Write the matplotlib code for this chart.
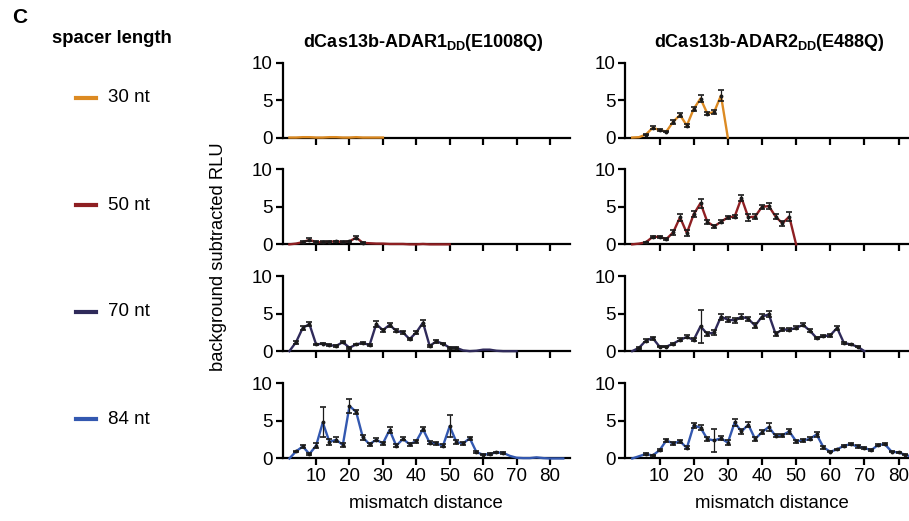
import matplotlib
matplotlib.use('Agg')
import matplotlib.pyplot as plt
from matplotlib.lines import Line2D

plt.rcParams['font.family'] = ['Liberation Sans', 'DejaVu Sans']
plt.rcParams['mathtext.fontset'] = 'custom'
plt.rcParams['mathtext.rm'] = 'Liberation Sans'
plt.rcParams['mathtext.bf'] = 'Liberation Sans:bold'

# mismatch positions per spacer length
x30 = list(range(2, 31, 2))
x50 = list(range(2, 51, 2))
x70 = list(range(2, 71, 2))
x84 = list(range(2, 85, 2))

# dCas13b-ADAR1DD(E1008Q)
a1_30 = [0.0, 0.0, 0.05, 0.05, 0.0, 0.0, 0.05, 0.05, 0.0, 0.0, 0.05, 0.0, 0.0, 0.0, 0.0]
a1_30_err = [0.0, 0.02, 0.02, 0.02, 0.02, 0.02, 0.02, 0.02, 0.02, 0.02, 0.02, 0.02, 0.02, 0.02, 0.0]
a1_50 = [0.0, 0.1, 0.3, 0.6, 0.3, 0.3, 0.35, 0.4, 0.3, 0.4, 0.9, 0.2, 0.15, 0.1, 0.1,
         0.05, 0.05, 0.05, 0.0, 0.0, 0.05, 0.0, 0.0, 0.0, 0.0]
a1_50_err = [0.0, 0.05, 0.1, 0.2, 0.1, 0.1, 0.1, 0.1, 0.1, 0.1, 0.2, 0.1, 0.05, 0.05, 0.05,
             0.05, 0.05, 0.05, 0.0, 0.0, 0.0, 0.0, 0.0, 0.0, 0.0]
a1_70 = [0.0, 1.2, 3.1, 3.6, 0.9, 1.0, 0.8, 0.7, 1.2, 0.45, 0.9, 1.1, 0.8, 3.6, 2.8,
         3.5, 2.7, 2.5, 1.6, 2.5, 3.8, 0.7, 1.3, 1.0, 0.45, 0.45, 0.1, 0.0, 0.05, 0.2,
         0.2, 0.05, 0.0, 0.0, 0.0]
a1_70_err = [0.0, 0.2, 0.3, 0.3, 0.1, 0.1, 0.1, 0.1, 0.15, 0.1, 0.1, 0.15, 0.1, 0.4, 0.2,
             0.3, 0.2, 0.2, 0.15, 0.2, 0.4, 0.1, 0.2, 0.1, 0.1, 0.1, 0.05, 0.0, 0.0, 0.05,
             0.05, 0.0, 0.0, 0.0, 0.0]
a1_84 = [0.0, 0.95, 1.6, 0.6, 1.7, 4.8, 2.2, 2.5, 1.8, 7.0, 6.2, 2.8, 1.9, 2.5, 2.0,
         3.8, 1.7, 2.6, 1.9, 2.3, 3.9, 2.1, 2.0, 1.7, 4.3, 2.2, 2.0, 2.7, 0.85, 0.5,
         0.6, 0.8, 0.75, 0.35, 0.1, 0.05, 0.05, 0.15, 0.05, 0.0, 0.0, 0.0]
a1_84_err = [0.0, 0.1, 0.15, 0.1, 0.3, 2.0, 0.4, 0.3, 0.3, 0.9, 0.3, 0.3, 0.2, 0.2, 0.2,
             0.4, 0.2, 0.2, 0.2, 0.2, 0.3, 0.2, 0.2, 0.2, 1.5, 0.3, 0.2, 0.2, 0.1, 0.1,
             0.1, 0.1, 0.1, 0.05, 0.05, 0.0, 0.0, 0.05, 0.0, 0.0, 0.0, 0.0]

# dCas13b-ADAR2DD(E488Q)
a2_30 = [0.0, 0.05, 0.4, 1.3, 1.0, 0.8, 2.1, 3.0, 1.6, 3.8, 5.2, 3.2, 3.4, 5.6, 0.0]
a2_30_err = [0.0, 0.0, 0.1, 0.2, 0.15, 0.1, 0.3, 0.25, 0.25, 0.3, 0.45, 0.2, 0.25, 0.7, 0.0]
a2_50 = [0.0, 0.1, 0.27, 1.0, 1.0, 0.7, 1.6, 3.6, 1.5, 4.0, 5.5, 3.0, 2.4, 3.0, 3.6,
         3.7, 6.2, 3.6, 3.7, 5.0, 5.1, 3.7, 2.8, 3.7, 0.0]
a2_50_err = [0.0, 0.05, 0.1, 0.15, 0.1, 0.15, 0.3, 0.5, 0.4, 0.4, 0.6, 0.3, 0.2, 0.2, 0.2,
             0.2, 0.4, 0.5, 0.3, 0.3, 0.4, 0.3, 0.3, 0.6, 0.0]
a2_70 = [0.0, 0.45, 1.4, 1.75, 0.6, 0.6, 1.0, 1.5, 1.9, 1.5, 3.3, 2.3, 2.5, 4.6, 4.2,
         4.1, 4.6, 4.3, 3.4, 4.6, 4.9, 2.3, 2.9, 2.85, 3.1, 3.5, 2.75, 1.75, 2.0, 2.1,
         3.1, 1.1, 0.9, 0.6, 0.0]
a2_70_err = [0.0, 0.1, 0.2, 0.2, 0.1, 0.1, 0.15, 0.2, 0.2, 0.2, 2.2, 0.3, 0.3, 0.4, 0.3,
             0.3, 0.3, 0.3, 0.3, 0.3, 0.4, 0.3, 0.2, 0.2, 0.2, 0.2, 0.2, 0.15, 0.15, 0.15,
             0.3, 0.15, 0.1, 0.1, 0.0]
a2_84 = [0.0, 0.3, 0.6, 0.4, 1.1, 2.4, 2.0, 2.3, 1.4, 4.4, 4.1, 2.6, 2.4, 2.7, 2.1,
         4.8, 3.6, 4.5, 2.6, 3.5, 4.2, 3.0, 3.1, 3.6, 2.3, 2.4, 2.6, 3.2, 1.5, 0.9,
         1.2, 1.7, 1.9, 1.6, 1.4, 1.1, 1.8, 1.9, 0.9, 0.8, 0.5, 0.2]
a2_84_err = [0.0, 0.05, 0.1, 0.1, 0.15, 0.2, 0.2, 0.2, 0.2, 0.3, 0.3, 0.3, 1.5, 0.3, 0.3,
             0.5, 0.3, 0.3, 0.3, 0.3, 0.5, 0.2, 0.2, 0.3, 0.2, 0.2, 0.2, 0.3, 0.2, 0.1,
             0.1, 0.15, 0.15, 0.15, 0.1, 0.1, 0.15, 0.15, 0.1, 0.1, 0.1, 0.05]

spacers = ['30 nt', '50 nt', '70 nt', '84 nt']
colors = ['#dc8a22', '#8e1f22', '#2f2a5a', '#3358b0']
titles = [r'dCas13b-ADAR1$_{\mathbf{DD}}$(E1008Q)', r'dCas13b-ADAR2$_{\mathbf{DD}}$(E488Q)']

rows = [
    (x30, a1_30, a1_30_err, a2_30, a2_30_err),
    (x50, a1_50, a1_50_err, a2_50, a2_50_err),
    (x70, a1_70, a1_70_err, a2_70, a2_70_err),
    (x84, a1_84, a1_84_err, a2_84, a2_84_err),
]

fig = plt.figure(figsize=(9.09, 5.21), dpi=100)

bottoms = [0.736, 0.531, 0.326, 0.120]
lefts = [0.311, 0.688]
widths = [0.316, 0.323]
h = 0.144

for r, (x, y1, e1, y2, e2) in enumerate(rows):
    for c, (y, e) in enumerate([(y1, e1), (y2, e2)]):
        ax = fig.add_axes([lefts[c], bottoms[r], widths[c], h])
        ax.plot(x, y, color=colors[r], lw=1.7, clip_on=False, zorder=3)
        # error bars only where they are visible in the figure
        keep = [i for i in range(len(x)) if e[i] >= 0.1]
        ax.errorbar([x[i] for i in keep], [y[i] for i in keep],
                    yerr=[e[i] for i in keep], fmt='o', ms=1.8, color='#1a1a1a',
                    elinewidth=0.9, capsize=2, capthick=1.2, clip_on=False, zorder=4)
        ax.set_xlim(0, 86)
        ax.set_ylim(0, 10)
        ax.set_yticks([0, 5, 10])
        ax.set_xticks(range(10, 81, 10))
        for s in ['top', 'right']:
            ax.spines[s].set_visible(False)
        for s in ['left', 'bottom']:
            ax.spines[s].set_linewidth(1.6)
        ax.tick_params(direction='out', length=5, width=1.6, labelsize=13.5, pad=2)
        if r < 3:
            ax.tick_params(labelbottom=False)
        else:
            ax.set_xlabel('mismatch distance', fontsize=13.4, labelpad=7)
        if r == 0:
            fig.text(lefts[c] + widths[c] / 2 - 0.003, 0.919, titles[c],
                     ha='center', va='center', fontsize=13, fontweight='bold')

fig.text(0.24, 0.508, 'background subtracted RLU', rotation=90,
         ha='center', va='center', fontsize=13.2)

fig.text(0.013, 0.967, 'C', fontsize=15, fontweight='bold', ha='left', va='center')
fig.text(0.057, 0.927, 'spacer length', fontsize=13.3, fontweight='bold',
         ha='left', va='center')

leg_y = [98, 205, 312, 419]
for ly, col, lab in zip(leg_y, colors, spacers):
    yy = 1 - ly / 521
    fig.add_artist(Line2D([76 / 909, 96 / 909], [yy, yy], color=col, lw=3))
    fig.text(108 / 909, yy, lab, fontsize=13.5, ha='left', va='center')

fig.savefig('out.png', dpi=100)
